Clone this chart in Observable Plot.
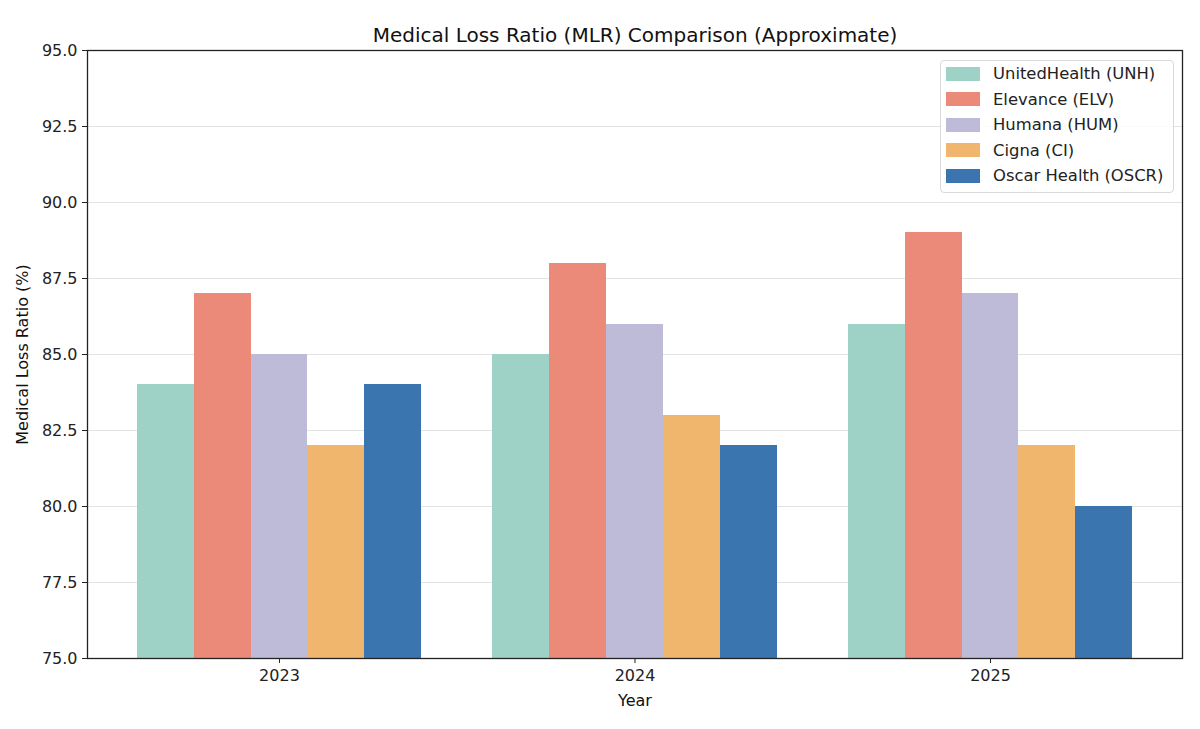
<!DOCTYPE html>
<html>
<head>
<meta charset="utf-8">
<script src="https://cdn.jsdelivr.net/npm/d3@7"></script>
<script src="https://cdn.jsdelivr.net/npm/@observablehq/plot@0.6"></script>
<style>
  html, body { margin: 0; padding: 0; background: #fff; }
  #wrap { position: relative; width: 1200px; height: 729px; font-family: "DejaVu Sans", sans-serif; }
  #legend { position: absolute; left: 940px; top: 60px; width: 234px; height: 133px; box-sizing: border-box;
    border: 1px solid #d9d9d9; border-radius: 4px; background: rgba(255,255,255,0.85);
    padding: 0 0 0 5px; font-size: 16.4px; color: #222; white-space: nowrap; }
  .row { display: flex; align-items: center; height: 25.5px; }
  .sw { width: 34px; height: 14px; margin-right: 13px; flex: none; }
</style>
</head>
<body>
<div id="wrap"><div id="chart"></div><div id="legend"></div></div>
<script>
const title = "Medical Loss Ratio (MLR) Comparison (Approximate)";
const years = ["2023", "2024", "2025"];
const companies = ["UnitedHealth (UNH)", "Elevance (ELV)", "Humana (HUM)", "Cigna (CI)", "Oscar Health (OSCR)"];
const colors = ["#9fd2c7", "#eb8a78", "#bebbd9", "#f0b66e", "#3a75af"];
const unh = [84, 85, 86];
const elv = [87, 88, 89];
const hum = [85, 86, 87];
const ci = [82, 83, 82];
const oscr = [84, 82, 80];
const yTicks = [75, 77.5, 80, 82.5, 85, 87.5, 90, 92.5, 95];

const series = [unh, elv, hum, ci, oscr];
const yBase = yTicks[0];
const barW = 0.8 / companies.length;
const rows = years.flatMap((yr, i) => companies.map((c, k) => ({
  i, k, year: yr, company: c, value: series[k][i]
})));

const chart = Plot.plot({
  width: 1200,
  height: 729,
  marginLeft: 87,
  marginRight: 18,
  marginTop: 50,
  marginBottom: 71,
  style: { fontFamily: "DejaVu Sans, sans-serif", fontSize: "16px", color: "#222", background: "#fff" },
  x: { type: "linear", domain: [-0.54, 2.54], axis: null },
  y: { domain: [yTicks[0], yTicks[yTicks.length - 1]], axis: null },
  color: { domain: companies, range: colors },
  marks: [
    Plot.gridY(yTicks, { stroke: "#e3e3e3", strokeOpacity: 1, strokeWidth: 1 }),
    Plot.rectY(rows, {
      x1: d => d.i + (d.k - (companies.length - 1) / 2) * barW - barW / 2,
      x2: d => d.i + (d.k - (companies.length - 1) / 2) * barW + barW / 2,
      y1: () => yBase,
      y2: "value",
      fill: "company",
      inset: 0,
      shapeRendering: "crispEdges"
    }),
    Plot.frame({ stroke: "#222", strokeWidth: 1.3 }),
    Plot.axisY(yTicks, { tickFormat: d3.format(".1f"), tickSize: 5, tickPadding: 5, fontSize: 16, label: null, stroke: "#222" }),
    Plot.axisX([0, 1, 2], { tickFormat: i => years[i], tickSize: 5, tickPadding: 6, fontSize: 16, label: null, stroke: "#222" }),
    Plot.text([title], { frameAnchor: "top", dy: -23, fontSize: 20, fill: "#111" }),
    Plot.text(["Year"], { frameAnchor: "bottom", dy: 47, fontSize: 16, fill: "#111" }),
    Plot.text(["Medical Loss Ratio (%)"], { frameAnchor: "left", textAnchor: "middle", dx: -65, rotate: -90, fontSize: 16, fill: "#111" })
  ]
});
document.getElementById("chart").appendChild(chart);

const legend = document.getElementById("legend");
companies.forEach((c, k) => {
  const row = document.createElement("div");
  row.className = "row";
  const sw = document.createElement("div");
  sw.className = "sw";
  sw.style.background = colors[k];
  const lab = document.createElement("span");
  lab.textContent = c;
  row.appendChild(sw);
  row.appendChild(lab);
  legend.appendChild(row);
});
</script>
</body>
</html>
